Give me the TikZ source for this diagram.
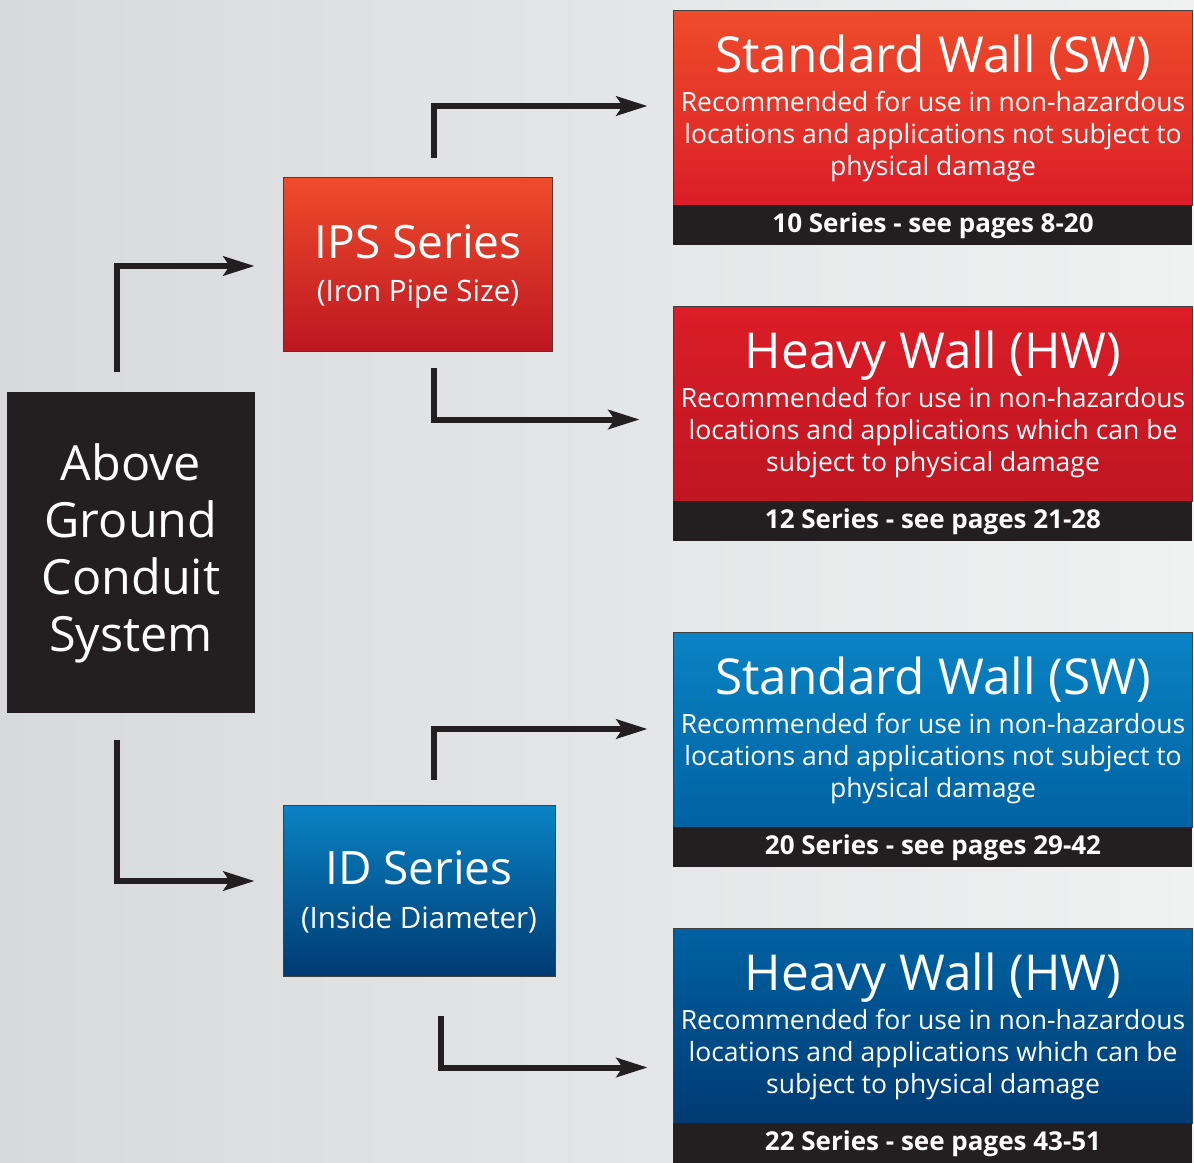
\documentclass[tikz,border=0pt]{standalone}
\usepackage{fontspec}
\setmainfont{Open Sans}
\usetikzlibrary{arrows.meta}
\definecolor{ink}{HTML}{231F20}
\definecolor{bgL}{HTML}{D8D9DB}
\definecolor{bgR}{HTML}{F0F1F1}
\definecolor{redT}{HTML}{EE4C2B}
\definecolor{redM}{HTML}{DB1D27}
\definecolor{redB}{HTML}{BE1622}
\definecolor{bluT}{HTML}{0A83C4}
\definecolor{bluM}{HTML}{0062A2}
\definecolor{bluB}{HTML}{003A72}
\tikzset{
  panel/.style={draw=black!75, line width=0.8pt, rectangle, inner sep=0pt},
  barbox/.style={fill=ink, draw=none, rectangle, inner sep=0pt, minimum width=519pt, minimum height=40pt},
  ttl/.style={text=white, anchor=base, inner sep=0pt, font=\fontsize{49.5}{58}\selectfont},
  bdy/.style={text=white, anchor=base, inner sep=0pt, font=\fontsize{26.5}{32}\selectfont},
  bartxt/.style={text=white, anchor=base, inner sep=0pt, font=\bfseries\fontsize{26}{30}\selectfont},
  big/.style={text=white, anchor=base, inner sep=0pt, font=\fontsize{48.5}{56}\selectfont},
  ser/.style={text=white, anchor=base, inner sep=0pt, font=\fontsize{46}{54}\selectfont},
  sub/.style={text=white, anchor=base, inner sep=0pt, font=\fontsize{29.5}{34}\selectfont},
  conn/.style={draw=ink, line width=6pt, -{Stealth[length=31pt, width=19pt, inset=6pt]}},
}
% #1 name, #2 y offset, #3 top colour, #4 bottom colour, #5 title, #6-#8 lines, #9 bar
\newcommand\wallbox[9]{%
  \node[panel, top color=#3, bottom color=#4, minimum width=519pt, minimum height=195pt] (#1) at (932.5,{107.5+#2}) {};
  \node[barbox] (#1-bar) at (932.5,{225+#2}) {};
  \node[ttl] (#1-t) at (933,{72+#2}) {#5};
  \node[bdy] (#1-a) at (933,{111+#2}) {#6};
  \node[bdy] (#1-b) at (933,{143+#2}) {#7};
  \node[bdy] (#1-c) at (933,{175+#2}) {#8};
  \node[bartxt] (#1-s) at (933,{232+#2}) {#9};
}
\begin{document}
\begin{tikzpicture}[x=1pt,y=-1pt]
\shade[left color=bgL, right color=bgR] (0,0) rectangle (1194,1162);
\useasboundingbox (0,0) rectangle (1194,1162);

% main box
\node[rectangle, fill=ink, inner sep=0pt, minimum width=248pt, minimum height=321pt] (main) at (131,552.5) {};
\node[big] (m1) at (131,480) {Above};
\node[big] (m2) at (131,537) {Ground};
\node[big] (m3) at (131,594) {Conduit};
\node[big] (m4) at (131,651) {System};

% series boxes
\node[panel, top color=redT, bottom color=redB, minimum width=269pt, minimum height=174pt] (ips) at (417.5,264) {};
\node[ser] (ips-t) at (418,258) {IPS Series};
\node[sub] (ips-s) at (418,301) {(Iron Pipe Size)};

\node[panel, top color=bluT, bottom color=bluB, minimum width=272pt, minimum height=171pt] (id) at (419,890.5) {};
\node[ser] (id-t) at (419,884) {ID Series};
\node[sub] (id-s) at (419,928) {(Inside Diameter)};

% wall boxes
\wallbox{sw1}{0}{redT}{redM}{Standard Wall (SW)}{Recommended for use in non-hazardous}{locations and applications not subject to}{physical damage}{10 Series - see pages 8-20}
\wallbox{hw1}{296}{redM}{redB}{Heavy Wall (HW)}{Recommended for use in non-hazardous}{locations and applications which can be}{subject to physical damage}{12 Series - see pages 21-28}
\wallbox{sw2}{622}{bluT}{bluM}{Standard Wall (SW)}{Recommended for use in non-hazardous}{locations and applications not subject to}{physical damage}{20 Series - see pages 29-42}
\wallbox{hw2}{918}{bluM}{bluB}{Heavy Wall (HW)}{Recommended for use in non-hazardous}{locations and applications which can be}{subject to physical damage}{22 Series - see pages 43-51}

% connectors
\draw[conn] ([xshift=-14pt,yshift=20pt]main.north) |- ([xshift=-28pt,yshift=-2pt]ips.west);
\draw[conn] ([xshift=-14pt,yshift=-27pt]main.south) |- ([xshift=-28pt,yshift=9.5pt]id.west);
\draw[conn] ([xshift=16.5pt,yshift=19pt]ips.north) |- ([xshift=-25pt,yshift=1.5pt]sw1.west);
\draw[conn] ([xshift=16.5pt,yshift=-17pt]ips.south) |- ([xshift=-33pt,yshift=-16pt]hw1.west);
\draw[conn] ([xshift=15pt,yshift=25pt]id.north) |- ([xshift=-25pt,yshift=0.5pt]sw2.west);
\draw[conn] ([xshift=22pt,yshift=-40pt]id.south) |- ([xshift=-25pt,yshift=-42pt]hw2.west);
\end{tikzpicture}
\end{document}
